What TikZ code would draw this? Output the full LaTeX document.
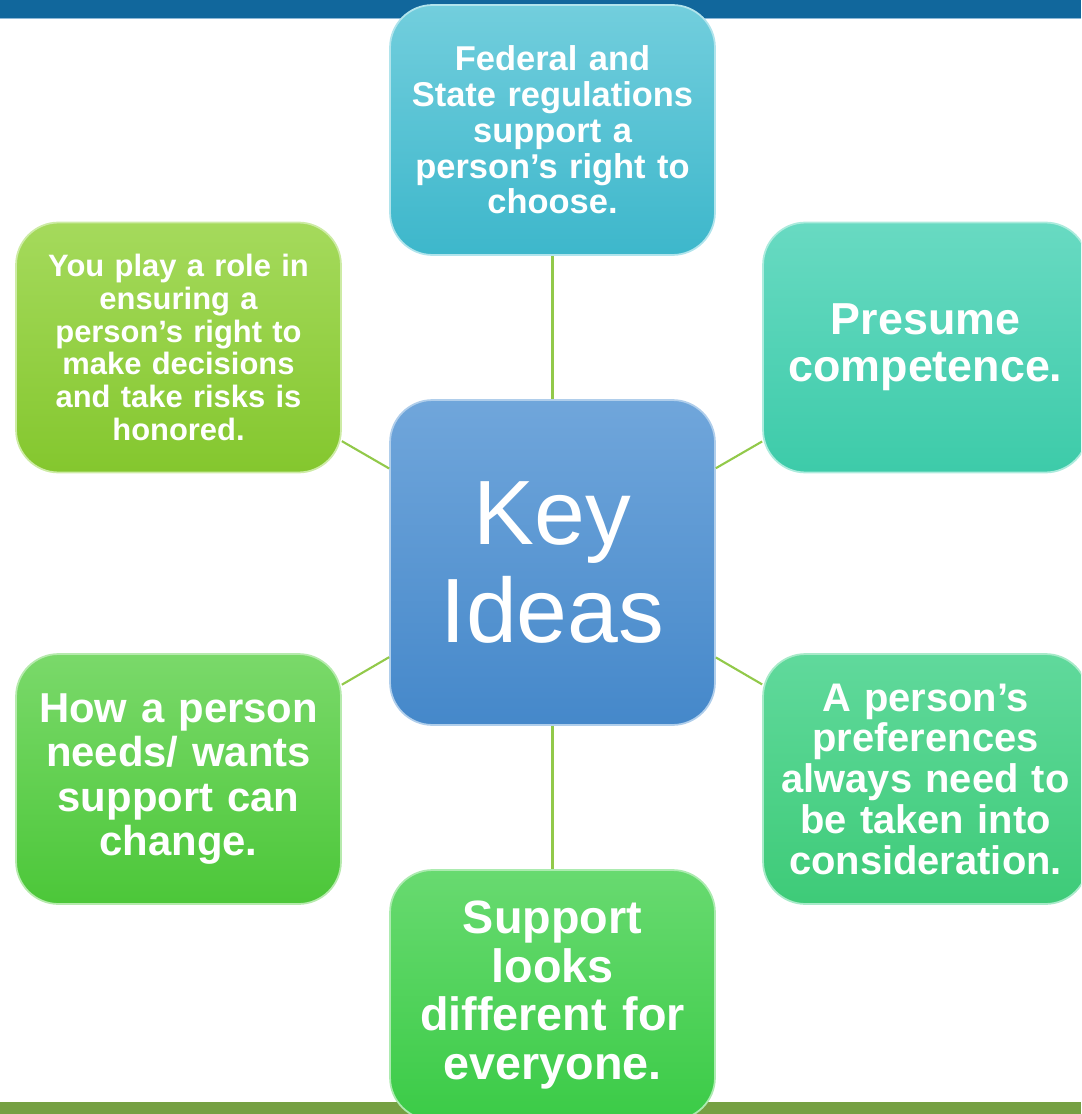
\documentclass[tikz,border=0pt]{standalone}
\usepackage{fontspec}
\setmainfont{Liberation Sans}
\usepackage{tikz}
\usetikzlibrary{positioning}
\definecolor{topbar}{HTML}{11679C}
\definecolor{barline}{HTML}{8DB8D6}
\definecolor{bottombar}{HTML}{76A043}
\definecolor{linkgreen}{HTML}{92C94A}
\definecolor{fedtop}{HTML}{72CEDD}
\definecolor{fedbot}{HTML}{3DB7CB}
\definecolor{keytop}{HTML}{70A6DB}
\definecolor{keybot}{HTML}{4588CA}
\definecolor{roletop}{HTML}{A5DA5C}
\definecolor{rolebot}{HTML}{84C72E}
\definecolor{prestop}{HTML}{68DAC2}
\definecolor{presbot}{HTML}{3DCBA9}
\definecolor{chgtop}{HTML}{7AD96A}
\definecolor{chgbot}{HTML}{4CC739}
\definecolor{preftop}{HTML}{60D99C}
\definecolor{prefbot}{HTML}{3ECB78}
\definecolor{suptop}{HTML}{68DA70}
\definecolor{supbot}{HTML}{3BCB47}

\begin{document}
\begin{tikzpicture}[x=0.02cm,y=-0.02cm,
    idea/.style={rectangle, rounded corners=0.85cm, minimum width=6.5cm, minimum height=5cm,
        text width=6.3cm, align=center, inner sep=0pt, text=white,
        top color=#1top, bottom color=#1bot, draw=#1top!55!white, line width=1pt},
    link/.style={draw=linkgreen, line width=1.2pt}]
        \useasboundingbox (0,0) rectangle (1081,1114);
        \clip (0,0) rectangle (1081,1114);
        \fill[topbar] (0,0) rectangle (1081,18);
        \draw[barline, line width=0.6pt] (0,18.6) -- (1081,18.6);
        \fill[bottombar] (0,1102) rectangle (1081,1114);
        \node[idea=key, minimum height=6.5cm, font=\fontsize{52}{56}\selectfont] (key) at (552.5,562.5) {Key\\Ideas};
        \node[idea=fed, font=\bfseries\fontsize{19.6}{20.4}\selectfont] (fed) at (552.5,130)
            {Federal and\\State regulations\\support a\\person’s right to\\choose.};
        \node[idea=role, font=\bfseries\fontsize{17.6}{18.7}\selectfont] (role) at (178.5,347.5)
            {You play a role in\\ensuring a\\person’s right to\\make decisions\\and take risks is\\honored.};
        \node[idea=pres, font=\bfseries\fontsize{25.5}{26.6}\selectfont] (presume) at (925.5,347.5)
            {Presume\\competence.};
        \node[idea=chg, font=\bfseries\fontsize{23.8}{25.2}\selectfont] (change) at (178.5,779)
            {How a person\\needs/ wants\\support can\\change.};
        \node[idea=pref, font=\bfseries\fontsize{22.7}{23.2}\selectfont] (pref) at (925.5,779)
            {A person’s\\preferences\\always need to\\be taken into\\consideration.};
        \node[idea=sup, font=\bfseries\fontsize{26.6}{27.8}\selectfont] (support) at (552.5,995)
            {Support\\looks\\different for\\everyone.};
        \foreach \n in {fed,role,presume,change,pref,support}
            \draw[link] (key) -- (\n);
    \end{tikzpicture}
\end{document}
